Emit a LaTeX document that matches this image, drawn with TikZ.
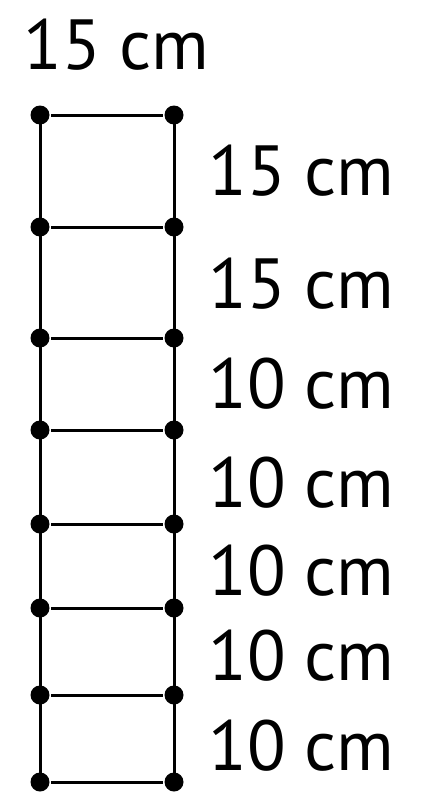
\documentclass[tikz,border=0pt]{standalone}
\usepackage{fontspec}
\setmainfont{PT Sans}
\begin{document}
\begin{tikzpicture}[x=1pt, y=-1pt, line width=3pt, dot/.style={circle, fill, inner sep=0pt, minimum size=19pt}, len/.style={anchor=base west, inner sep=0pt, font=\fontsize{71}{80}\selectfont}]
        \useasboundingbox (0,0) rectangle (421,811);

          \node[dot] (l1) at (40,115) {};
          \node[dot] (r1) at (174,115) {};
          \node[dot] (l2) at (40,227) {};
          \node[dot] (r2) at (174,227) {};
          \node[dot] (l3) at (40,338) {};
          \node[dot] (r3) at (174,338) {};
          \node[dot] (l4) at (40,430) {};
          \node[dot] (r4) at (174,430) {};
          \node[dot] (l5) at (40,524) {};
          \node[dot] (r5) at (174,524) {};
          \node[dot] (l6) at (40,608) {};
          \node[dot] (r6) at (174,608) {};
          \node[dot] (l7) at (40,695) {};
          \node[dot] (r7) at (174,695) {};
          \node[dot] (l8) at (40,782) {};
          \node[dot] (r8) at (174,782) {};

          \node[len] (top) at (22,69) {15 cm};
          \node[len] (s1) at (207,195) {15 cm};
          \node[len] (s2) at (207,308) {15 cm};
          \node[len] (s3) at (207,408) {10 cm};
          \node[len] (s4) at (207,507) {10 cm};
          \node[len] (s5) at (207,595) {10 cm};
          \node[len] (s6) at (207,680) {10 cm};
          \node[len] (s7) at (207,770) {10 cm};

          \draw (l1.center) -- (l8.center);
          \draw (r1.center) -- (r8.center);
          \draw (l1) -- (r1);
          \draw (l2) -- (r2);
          \draw (l3) -- (r3);
          \draw (l4) -- (r4);
          \draw (l5) -- (r5);
          \draw (l6) -- (r6);
          \draw (l7) -- (r7);
          \draw (l8) -- (r8);

        \end{tikzpicture}
\end{document}
